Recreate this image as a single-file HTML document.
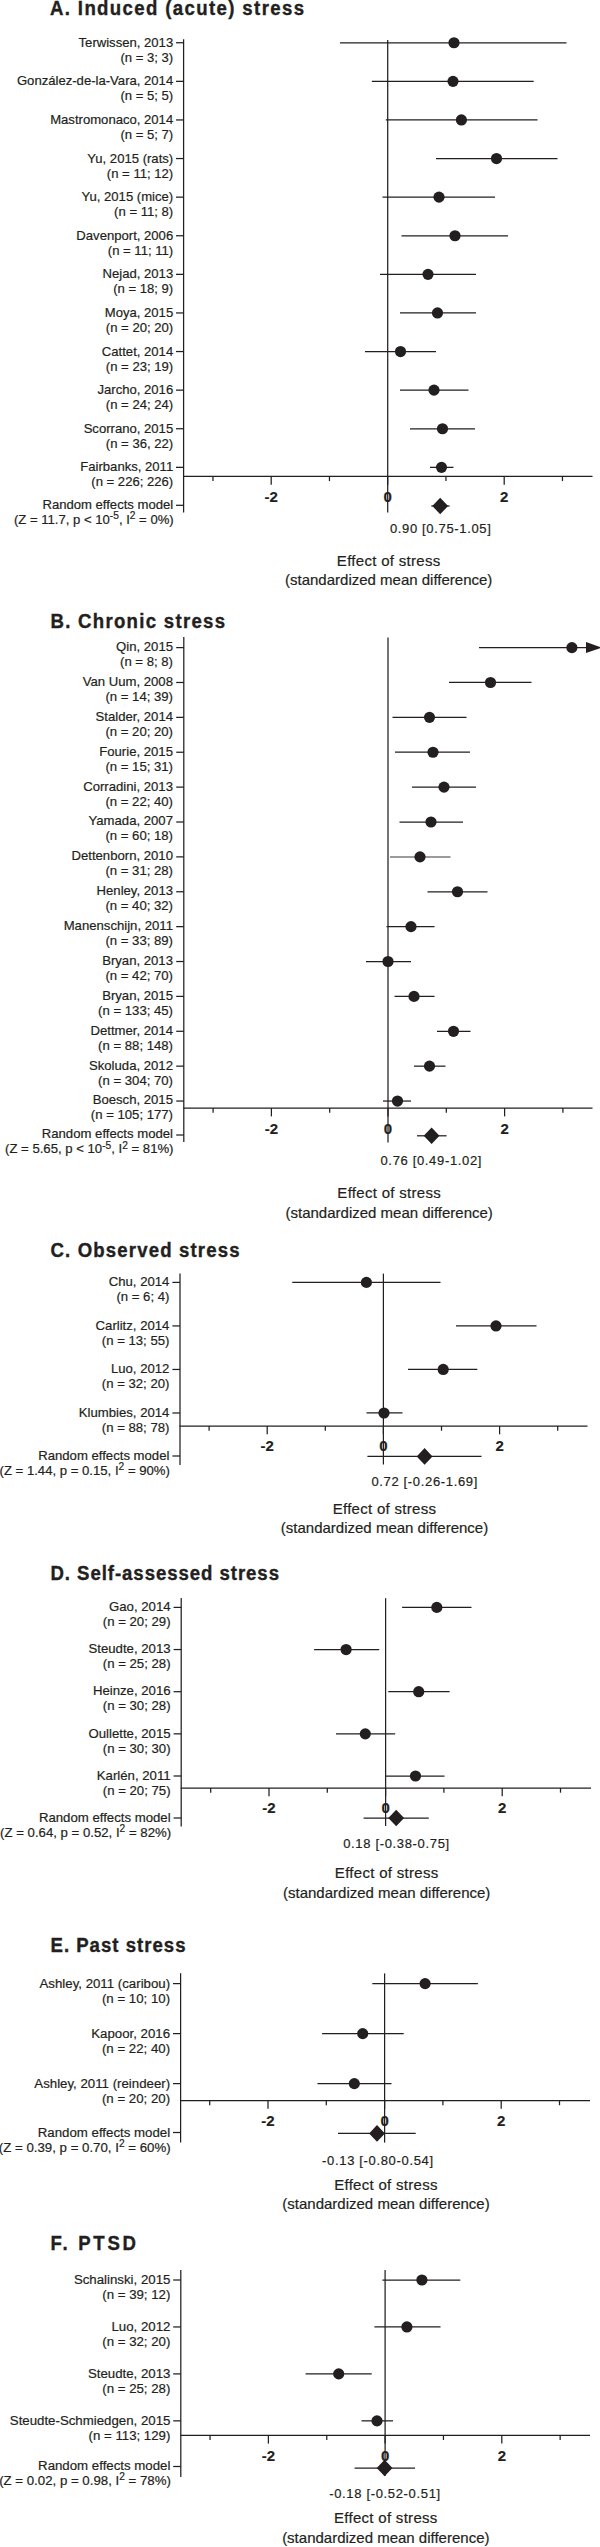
<!DOCTYPE html>
<html lang="en"><head><meta charset="utf-8"><title>Forest plots: effect of stress</title>
<style>html,body{margin:0;padding:0;background:#fff}body{width:600px;height:2547px;overflow:hidden}svg{display:block}</style>
</head><body>
<svg width="600" height="2547" viewBox="0 0 600 2547">
<style>text{font-family:"Liberation Sans",Arial,Helvetica,sans-serif;fill:#231f20;stroke:#231f20;stroke-width:.2px}.t{font-size:18.6px;font-weight:bold;stroke:#231f20;stroke-width:.35px}.l{text-anchor:end}.n{font-size:15px;font-weight:bold;text-anchor:middle}.v{font-size:13px;text-anchor:middle;letter-spacing:.66px}.e{font-size:15px;text-anchor:middle}.s{font-size:10.2px}line,path.ln{stroke:#231f20;stroke-width:1.25;fill:none}.ax{stroke-width:1.25}</style>
<g font-size="13.1">
<text class="t" transform="translate(0 14.7) scale(1 1.05)" x="50" y="0" textLength="254" lengthAdjust="spacing">A. Induced (acute) stress</text>
<line class="ax" x1="183.6" y1="39.3" x2="183.6" y2="512.6"/>
<line class="ax" x1="183.1" y1="476.4" x2="592.5" y2="476.4"/>
<line x1="212.95" y1="476.4" x2="212.95" y2="481.1"/>
<line x1="271.2" y1="476.4" x2="271.2" y2="484.7"/>
<line x1="329.45" y1="476.4" x2="329.45" y2="481.1"/>
<line x1="387.7" y1="476.4" x2="387.7" y2="484.7"/>
<line x1="445.95" y1="476.4" x2="445.95" y2="481.1"/>
<line x1="504.2" y1="476.4" x2="504.2" y2="484.7"/>
<line x1="562.45" y1="476.4" x2="562.45" y2="481.1"/>
<line x1="387.7" y1="40" x2="387.7" y2="512.6"/>
<text class="n" x="271.2" y="501.8">-2</text>
<text class="n" x="387.7" y="501.8">0</text>
<text class="n" x="504.2" y="501.8">2</text>
<text class="l" x="173.2" y="46.75">Terwissen, 2013</text>
<text class="l" x="173.2" y="61.75">(n = 3; 3)</text>
<line x1="176" y1="42.75" x2="183.6" y2="42.75"/>
<line x1="340" y1="42.75" x2="566.5" y2="42.75"/>
<circle cx="454" cy="42.75" r="5.6" fill="#231f20"/>
<text class="l" x="173.2" y="85.35">González-de-la-Vara, 2014</text>
<text class="l" x="173.2" y="100.35">(n = 5; 5)</text>
<line x1="176" y1="81.35" x2="183.6" y2="81.35"/>
<line x1="371.8" y1="81.35" x2="533.7" y2="81.35"/>
<circle cx="453" cy="81.35" r="5.6" fill="#231f20"/>
<text class="l" x="173.2" y="123.95">Mastromonaco, 2014</text>
<text class="l" x="173.2" y="138.95">(n = 5; 7)</text>
<line x1="176" y1="119.95" x2="183.6" y2="119.95"/>
<line x1="385.8" y1="119.95" x2="537.5" y2="119.95"/>
<circle cx="461.4" cy="119.95" r="5.6" fill="#231f20"/>
<text class="l" x="173.2" y="162.55">Yu, 2015 (rats)</text>
<text class="l" x="173.2" y="177.55">(n = 11; 12)</text>
<line x1="176" y1="158.55" x2="183.6" y2="158.55"/>
<line x1="436" y1="158.55" x2="557.5" y2="158.55"/>
<circle cx="496.5" cy="158.55" r="5.6" fill="#231f20"/>
<text class="l" x="173.2" y="201.15">Yu, 2015 (mice)</text>
<text class="l" x="173.2" y="216.15">(n = 11; 8)</text>
<line x1="176" y1="197.15" x2="183.6" y2="197.15"/>
<line x1="382.5" y1="197.15" x2="495" y2="197.15"/>
<circle cx="439" cy="197.15" r="5.6" fill="#231f20"/>
<text class="l" x="173.2" y="239.75">Davenport, 2006</text>
<text class="l" x="173.2" y="254.75">(n = 11; 11)</text>
<line x1="176" y1="235.75" x2="183.6" y2="235.75"/>
<line x1="401.5" y1="235.75" x2="508" y2="235.75"/>
<circle cx="455" cy="235.75" r="5.6" fill="#231f20"/>
<text class="l" x="173.2" y="278.35">Nejad, 2013</text>
<text class="l" x="173.2" y="293.35">(n = 18; 9)</text>
<line x1="176" y1="274.35" x2="183.6" y2="274.35"/>
<line x1="380" y1="274.35" x2="476" y2="274.35"/>
<circle cx="428" cy="274.35" r="5.6" fill="#231f20"/>
<text class="l" x="173.2" y="316.95">Moya, 2015</text>
<text class="l" x="173.2" y="331.95">(n = 20; 20)</text>
<line x1="176" y1="312.95" x2="183.6" y2="312.95"/>
<line x1="400" y1="312.95" x2="476" y2="312.95"/>
<circle cx="437.5" cy="312.95" r="5.6" fill="#231f20"/>
<text class="l" x="173.2" y="355.55">Cattet, 2014</text>
<text class="l" x="173.2" y="370.55">(n = 23; 19)</text>
<line x1="176" y1="351.55" x2="183.6" y2="351.55"/>
<line x1="365" y1="351.55" x2="436" y2="351.55"/>
<circle cx="400.5" cy="351.55" r="5.6" fill="#231f20"/>
<text class="l" x="173.2" y="394.15">Jarcho, 2016</text>
<text class="l" x="173.2" y="409.15">(n = 24; 24)</text>
<line x1="176" y1="390.15" x2="183.6" y2="390.15"/>
<line x1="400" y1="390.15" x2="468.5" y2="390.15"/>
<circle cx="434" cy="390.15" r="5.6" fill="#231f20"/>
<text class="l" x="173.2" y="432.75">Scorrano, 2015</text>
<text class="l" x="173.2" y="447.75">(n = 36, 22)</text>
<line x1="176" y1="428.75" x2="183.6" y2="428.75"/>
<line x1="410" y1="428.75" x2="475" y2="428.75"/>
<circle cx="442.5" cy="428.75" r="5.6" fill="#231f20"/>
<text class="l" x="173.2" y="471.35">Fairbanks, 2011</text>
<text class="l" x="173.2" y="486.35">(n = 226; 226)</text>
<line x1="176" y1="467.35" x2="183.6" y2="467.35"/>
<line x1="430" y1="467.35" x2="453.5" y2="467.35"/>
<circle cx="441.5" cy="467.35" r="5.6" fill="#231f20"/>
<line x1="176" y1="505.3" x2="183.6" y2="505.3"/>
<text class="l" x="173.2" y="509.3">Random effects model</text>
<text class="l" x="173.7" y="524.3">(Z = 11.7, p &lt; 10<tspan class="s" dy="-4.9">-5</tspan><tspan dy="4.9">, I</tspan><tspan class="s" dy="-4.9">2</tspan><tspan dy="4.9"> = 0%)</tspan></text>
<line x1="431.3" y1="506" x2="449.6" y2="506"/>
<path d="M432.3 506L440.2 497.7L448.1 506L440.2 514.3Z" fill="#231f20"/>
<text class="v" x="440.7" y="533.2">0.90 [0.75-1.05]</text>
<text class="e" x="388.7" y="566" letter-spacing=".3">Effect of stress</text>
<text class="e" x="388.7" y="585.2">(standardized mean difference)</text>
</g>
<g font-size="13.15">
<text class="t" transform="translate(0 628) scale(1 1.05)" x="50.5" y="0" textLength="174.5" lengthAdjust="spacing">B. Chronic stress</text>
<line class="ax" x1="183.8" y1="637" x2="183.8" y2="1142"/>
<line class="ax" x1="183.3" y1="1108.1" x2="592.5" y2="1108.1"/>
<line x1="213.1" y1="1108.1" x2="213.1" y2="1112.8"/>
<line x1="271.4" y1="1108.1" x2="271.4" y2="1116.4"/>
<line x1="329.7" y1="1108.1" x2="329.7" y2="1112.8"/>
<line x1="388" y1="1108.1" x2="388" y2="1116.4"/>
<line x1="446.3" y1="1108.1" x2="446.3" y2="1112.8"/>
<line x1="504.6" y1="1108.1" x2="504.6" y2="1116.4"/>
<line x1="562.9" y1="1108.1" x2="562.9" y2="1112.8"/>
<line x1="388" y1="637.6" x2="388" y2="1142.4"/>
<text class="n" x="271.4" y="1133.5">-2</text>
<text class="n" x="388" y="1133.5">0</text>
<text class="n" x="504.6" y="1133.5">2</text>
<text class="l" x="173" y="651">Qin, 2015</text>
<text class="l" x="173" y="666">(n = 8; 8)</text>
<line x1="176.2" y1="647.6" x2="183.8" y2="647.6"/>
<line x1="479" y1="647.6" x2="590" y2="647.6"/>
<path d="M586 642.1L601.5 647.6L586 653.1Z" fill="#231f20"/>
<circle cx="571.9" cy="647.6" r="5.6" fill="#231f20"/>
<text class="l" x="173" y="685.88">Van Uum, 2008</text>
<text class="l" x="173" y="700.88">(n = 14; 39)</text>
<line x1="176.2" y1="682.48" x2="183.8" y2="682.48"/>
<line x1="449" y1="682.48" x2="531.5" y2="682.48"/>
<circle cx="490.5" cy="682.48" r="5.6" fill="#231f20"/>
<text class="l" x="173" y="720.76">Stalder, 2014</text>
<text class="l" x="173" y="735.76">(n = 20; 20)</text>
<line x1="176.2" y1="717.36" x2="183.8" y2="717.36"/>
<line x1="392.5" y1="717.36" x2="466.5" y2="717.36"/>
<circle cx="429.5" cy="717.36" r="5.6" fill="#231f20"/>
<text class="l" x="173" y="755.64">Fourie, 2015</text>
<text class="l" x="173" y="770.64">(n = 15; 31)</text>
<line x1="176.2" y1="752.24" x2="183.8" y2="752.24"/>
<line x1="395" y1="752.24" x2="470" y2="752.24"/>
<circle cx="433" cy="752.24" r="5.6" fill="#231f20"/>
<text class="l" x="173" y="790.52">Corradini, 2013</text>
<text class="l" x="173" y="805.52">(n = 22; 40)</text>
<line x1="176.2" y1="787.12" x2="183.8" y2="787.12"/>
<line x1="412" y1="787.12" x2="476" y2="787.12"/>
<circle cx="444" cy="787.12" r="5.6" fill="#231f20"/>
<text class="l" x="173" y="825.4">Yamada, 2007</text>
<text class="l" x="173" y="840.4">(n = 60; 18)</text>
<line x1="176.2" y1="822" x2="183.8" y2="822"/>
<line x1="399.5" y1="822" x2="463" y2="822"/>
<circle cx="431" cy="822" r="5.6" fill="#231f20"/>
<text class="l" x="173" y="860.28">Dettenborn, 2010</text>
<text class="l" x="173" y="875.28">(n = 31; 28)</text>
<line x1="176.2" y1="856.88" x2="183.8" y2="856.88"/>
<line x1="390" y1="856.88" x2="450.5" y2="856.88" style="stroke:#7a7a7a;stroke-width:1.5"/>
<circle cx="420" cy="856.88" r="5.6" fill="#231f20"/>
<text class="l" x="173" y="895.16">Henley, 2013</text>
<text class="l" x="173" y="910.16">(n = 40; 32)</text>
<line x1="176.2" y1="891.76" x2="183.8" y2="891.76"/>
<line x1="427.5" y1="891.76" x2="487.5" y2="891.76"/>
<circle cx="457.5" cy="891.76" r="5.6" fill="#231f20"/>
<text class="l" x="173" y="930.04">Manenschijn, 2011</text>
<text class="l" x="173" y="945.04">(n = 33; 89)</text>
<line x1="176.2" y1="926.64" x2="183.8" y2="926.64"/>
<line x1="386.5" y1="926.64" x2="434.5" y2="926.64"/>
<circle cx="411" cy="926.64" r="5.6" fill="#231f20"/>
<text class="l" x="173" y="964.92">Bryan, 2013</text>
<text class="l" x="173" y="979.92">(n = 42; 70)</text>
<line x1="176.2" y1="961.52" x2="183.8" y2="961.52"/>
<line x1="366" y1="961.52" x2="411" y2="961.52"/>
<circle cx="388" cy="961.52" r="5.6" fill="#231f20"/>
<text class="l" x="173" y="999.8">Bryan, 2015</text>
<text class="l" x="173" y="1014.8">(n = 133; 45)</text>
<line x1="176.2" y1="996.4" x2="183.8" y2="996.4"/>
<line x1="394.5" y1="996.4" x2="434.5" y2="996.4"/>
<circle cx="414" cy="996.4" r="5.6" fill="#231f20"/>
<text class="l" x="173" y="1034.68">Dettmer, 2014</text>
<text class="l" x="173" y="1049.68">(n = 88; 148)</text>
<line x1="176.2" y1="1031.28" x2="183.8" y2="1031.28"/>
<line x1="437" y1="1031.28" x2="470.5" y2="1031.28"/>
<circle cx="453.5" cy="1031.28" r="5.6" fill="#231f20"/>
<text class="l" x="173" y="1069.56">Skoluda, 2012</text>
<text class="l" x="173" y="1084.56">(n = 304; 70)</text>
<line x1="176.2" y1="1066.16" x2="183.8" y2="1066.16"/>
<line x1="414" y1="1066.16" x2="445.5" y2="1066.16"/>
<circle cx="429.5" cy="1066.16" r="5.6" fill="#231f20"/>
<text class="l" x="173" y="1104.44">Boesch, 2015</text>
<text class="l" x="173" y="1119.44">(n = 105; 177)</text>
<line x1="176.2" y1="1101.04" x2="183.8" y2="1101.04"/>
<line x1="383" y1="1101.04" x2="411" y2="1101.04"/>
<circle cx="397.5" cy="1101.04" r="5.6" fill="#231f20"/>
<line x1="176.2" y1="1135" x2="183.8" y2="1135"/>
<text class="l" x="173" y="1138.4">Random effects model</text>
<text class="l" x="173.5" y="1153.4">(Z = 5.65, p &lt; 10<tspan class="s" dy="-4.9">-5</tspan><tspan dy="4.9">, I</tspan><tspan class="s" dy="-4.9">2</tspan><tspan dy="4.9"> = 81%)</tspan></text>
<line x1="417" y1="1135.8" x2="446.6" y2="1135.8"/>
<path d="M423.7 1135.8L431.6 1127.5L439.5 1135.8L431.6 1144.1Z" fill="#231f20"/>
<text class="v" x="431.3" y="1165.3">0.76 [0.49-1.02]</text>
<text class="e" x="389.2" y="1197.8" letter-spacing=".3">Effect of stress</text>
<text class="e" x="389.2" y="1217.5">(standardized mean difference)</text>
</g>
<g font-size="13.15">
<text class="t" transform="translate(0 1256.5) scale(1 1.05)" x="50.5" y="0" textLength="189" lengthAdjust="spacing">C. Observed stress</text>
<line class="ax" x1="180" y1="1273.4" x2="180" y2="1465"/>
<line class="ax" x1="179.5" y1="1426" x2="587.5" y2="1426"/>
<line x1="209.1" y1="1426" x2="209.1" y2="1430.7"/>
<line x1="267.2" y1="1426" x2="267.2" y2="1434.3"/>
<line x1="325.3" y1="1426" x2="325.3" y2="1430.7"/>
<line x1="383.4" y1="1426" x2="383.4" y2="1434.3"/>
<line x1="441.5" y1="1426" x2="441.5" y2="1430.7"/>
<line x1="499.6" y1="1426" x2="499.6" y2="1434.3"/>
<line x1="557.7" y1="1426" x2="557.7" y2="1430.7"/>
<line x1="383.4" y1="1273.6" x2="383.4" y2="1464.5"/>
<text class="n" x="267.2" y="1451.4">-2</text>
<text class="n" x="383.4" y="1451.4">0</text>
<text class="n" x="499.6" y="1451.4">2</text>
<text class="l" x="169.4" y="1286.1">Chu, 2014</text>
<text class="l" x="169.4" y="1301.1">(n = 6; 4)</text>
<line x1="172.4" y1="1282.4" x2="180" y2="1282.4"/>
<line x1="292.3" y1="1282.4" x2="440.5" y2="1282.4"/>
<circle cx="366.4" cy="1282.4" r="5.6" fill="#231f20"/>
<text class="l" x="169.4" y="1329.63">Carlitz, 2014</text>
<text class="l" x="169.4" y="1344.63">(n = 13; 55)</text>
<line x1="172.4" y1="1325.93" x2="180" y2="1325.93"/>
<line x1="456" y1="1325.93" x2="536.5" y2="1325.93"/>
<circle cx="496" cy="1325.93" r="5.6" fill="#231f20"/>
<text class="l" x="169.4" y="1373.16">Luo, 2012</text>
<text class="l" x="169.4" y="1388.16">(n = 32; 20)</text>
<line x1="172.4" y1="1369.46" x2="180" y2="1369.46"/>
<line x1="408" y1="1369.46" x2="477.3" y2="1369.46"/>
<circle cx="443.2" cy="1369.46" r="5.6" fill="#231f20"/>
<text class="l" x="169.4" y="1416.69">Klumbies, 2014</text>
<text class="l" x="169.4" y="1431.69">(n = 88; 78)</text>
<line x1="172.4" y1="1412.99" x2="180" y2="1412.99"/>
<line x1="366.5" y1="1412.99" x2="402.5" y2="1412.99"/>
<circle cx="384" cy="1412.99" r="5.6" fill="#231f20"/>
<line x1="172.4" y1="1456" x2="180" y2="1456"/>
<text class="l" x="169.4" y="1459.7">Random effects model</text>
<text class="l" x="169.9" y="1474.7">(Z = 1.44, p = 0.15, I<tspan class="s" dy="-4.9">2</tspan><tspan dy="4.9"> = 90%)</tspan></text>
<line x1="367.4" y1="1456.4" x2="481.5" y2="1456.4"/>
<path d="M416.7 1456.4L424.6 1448.1L432.5 1456.4L424.6 1464.7Z" fill="#231f20"/>
<text class="v" x="424.7" y="1486">0.72 [-0.26-1.69]</text>
<text class="e" x="384.5" y="1514.3" letter-spacing=".3">Effect of stress</text>
<text class="e" x="384.5" y="1532.8">(standardized mean difference)</text>
</g>
<g font-size="13.2">
<text class="t" transform="translate(0 1580) scale(1 1.05)" x="50.5" y="0" textLength="228.5" lengthAdjust="spacing">D. Self-assessed stress</text>
<line class="ax" x1="181.2" y1="1598" x2="181.2" y2="1826.5"/>
<line class="ax" x1="180.7" y1="1788" x2="591" y2="1788"/>
<line x1="210.7" y1="1788" x2="210.7" y2="1792.7"/>
<line x1="269" y1="1788" x2="269" y2="1796.3"/>
<line x1="327.3" y1="1788" x2="327.3" y2="1792.7"/>
<line x1="385.6" y1="1788" x2="385.6" y2="1796.3"/>
<line x1="443.9" y1="1788" x2="443.9" y2="1792.7"/>
<line x1="502.2" y1="1788" x2="502.2" y2="1796.3"/>
<line x1="560.5" y1="1788" x2="560.5" y2="1792.7"/>
<line x1="385.6" y1="1598.2" x2="385.6" y2="1826"/>
<text class="n" x="269" y="1813.4">-2</text>
<text class="n" x="385.6" y="1813.4">0</text>
<text class="n" x="502.2" y="1813.4">2</text>
<text class="l" x="170.6" y="1611.1">Gao, 2014</text>
<text class="l" x="170.6" y="1626.1">(n = 20; 29)</text>
<line x1="173.6" y1="1607.4" x2="181.2" y2="1607.4"/>
<line x1="402.1" y1="1607.4" x2="471.5" y2="1607.4"/>
<circle cx="436.8" cy="1607.4" r="5.6" fill="#231f20"/>
<text class="l" x="170.6" y="1653.25">Steudte, 2013</text>
<text class="l" x="170.6" y="1668.25">(n = 25; 28)</text>
<line x1="173.6" y1="1649.55" x2="181.2" y2="1649.55"/>
<line x1="314.1" y1="1649.55" x2="379.2" y2="1649.55"/>
<circle cx="346.1" cy="1649.55" r="5.6" fill="#231f20"/>
<text class="l" x="170.6" y="1695.4">Heinze, 2016</text>
<text class="l" x="170.6" y="1710.4">(n = 30; 28)</text>
<line x1="173.6" y1="1691.7" x2="181.2" y2="1691.7"/>
<line x1="388.3" y1="1691.7" x2="449.6" y2="1691.7"/>
<circle cx="418.7" cy="1691.7" r="5.6" fill="#231f20"/>
<text class="l" x="170.6" y="1737.55">Oullette, 2015</text>
<text class="l" x="170.6" y="1752.55">(n = 30; 30)</text>
<line x1="173.6" y1="1733.85" x2="181.2" y2="1733.85"/>
<line x1="336" y1="1733.85" x2="395.2" y2="1733.85"/>
<circle cx="365.3" cy="1733.85" r="5.6" fill="#231f20"/>
<text class="l" x="170.6" y="1779.7">Karlén, 2011</text>
<text class="l" x="170.6" y="1794.7">(n = 20; 75)</text>
<line x1="173.6" y1="1776" x2="181.2" y2="1776"/>
<line x1="386" y1="1776" x2="444.5" y2="1776"/>
<circle cx="415.5" cy="1776" r="5.6" fill="#231f20"/>
<line x1="173.6" y1="1818" x2="181.2" y2="1818"/>
<text class="l" x="170.6" y="1821.7">Random effects model</text>
<text class="l" x="171.1" y="1836.7">(Z = 0.64, p = 0.52, I<tspan class="s" dy="-4.9">2</tspan><tspan dy="4.9"> = 82%)</tspan></text>
<line x1="363.6" y1="1818" x2="428.8" y2="1818"/>
<path d="M388.3 1818L396.2 1809.7L404.1 1818L396.2 1826.3Z" fill="#231f20"/>
<text class="v" x="396.5" y="1847.5">0.18 [-0.38-0.75]</text>
<text class="e" x="386.7" y="1877.8" letter-spacing=".3">Effect of stress</text>
<text class="e" x="386.7" y="1897.5">(standardized mean difference)</text>
</g>
<g font-size="13.25">
<text class="t" transform="translate(0 1952) scale(1 1.05)" x="50.5" y="0" textLength="135" lengthAdjust="spacing">E. Past stress</text>
<line class="ax" x1="180.6" y1="1973.2" x2="180.6" y2="2142.5"/>
<line class="ax" x1="180.1" y1="2100.5" x2="590" y2="2100.5"/>
<line x1="209.7" y1="2100.5" x2="209.7" y2="2105.2"/>
<line x1="268" y1="2100.5" x2="268" y2="2108.8"/>
<line x1="326.3" y1="2100.5" x2="326.3" y2="2105.2"/>
<line x1="384.6" y1="2100.5" x2="384.6" y2="2108.8"/>
<line x1="442.9" y1="2100.5" x2="442.9" y2="2105.2"/>
<line x1="501.2" y1="2100.5" x2="501.2" y2="2108.8"/>
<line x1="559.5" y1="2100.5" x2="559.5" y2="2105.2"/>
<line x1="384.6" y1="1973.4" x2="384.6" y2="2142.6"/>
<text class="n" x="268" y="2125.9">-2</text>
<text class="n" x="384.6" y="2125.9">0</text>
<text class="n" x="501.2" y="2125.9">2</text>
<text class="l" x="170.1" y="1987.6">Ashley, 2011 (caribou)</text>
<text class="l" x="170.1" y="2002.6">(n = 10; 10)</text>
<line x1="173" y1="1983.6" x2="180.6" y2="1983.6"/>
<line x1="372.3" y1="1983.6" x2="477.9" y2="1983.6"/>
<circle cx="425.1" cy="1983.6" r="5.6" fill="#231f20"/>
<text class="l" x="170.1" y="2037.6">Kapoor, 2016</text>
<text class="l" x="170.1" y="2052.6">(n = 22; 40)</text>
<line x1="173" y1="2033.6" x2="180.6" y2="2033.6"/>
<line x1="322.1" y1="2033.6" x2="403.7" y2="2033.6"/>
<circle cx="362.7" cy="2033.6" r="5.6" fill="#231f20"/>
<text class="l" x="170.1" y="2087.6">Ashley, 2011 (reindeer)</text>
<text class="l" x="170.1" y="2102.6">(n = 20; 20)</text>
<line x1="173" y1="2083.6" x2="180.6" y2="2083.6"/>
<line x1="317.5" y1="2083.6" x2="391.5" y2="2083.6"/>
<circle cx="354.3" cy="2083.6" r="5.6" fill="#231f20"/>
<line x1="173" y1="2132.5" x2="180.6" y2="2132.5"/>
<text class="l" x="170.1" y="2136.5">Random effects model</text>
<text class="l" x="170.6" y="2151.5">(Z = 0.39, p = 0.70, I<tspan class="s" dy="-4.9">2</tspan><tspan dy="4.9"> = 60%)</tspan></text>
<line x1="338" y1="2133.4" x2="415.7" y2="2133.4"/>
<path d="M369.1 2133.4L377 2125.1L384.9 2133.4L377 2141.7Z" fill="#231f20"/>
<text class="v" x="377.9" y="2164.7">-0.13 [-0.80-0.54]</text>
<text class="e" x="386" y="2189.7" letter-spacing=".3">Effect of stress</text>
<text class="e" x="386" y="2208.8">(standardized mean difference)</text>
</g>
<g font-size="13.25">
<text class="t" transform="translate(0 2250) scale(1 1.05)" x="50.5" y="0" textLength="85.5" lengthAdjust="spacing">F. PTSD</text>
<line class="ax" x1="180.8" y1="2270" x2="180.8" y2="2477"/>
<line class="ax" x1="180.3" y1="2435.3" x2="590" y2="2435.3"/>
<line x1="210.05" y1="2435.3" x2="210.05" y2="2440"/>
<line x1="268.4" y1="2435.3" x2="268.4" y2="2443.6"/>
<line x1="326.75" y1="2435.3" x2="326.75" y2="2440"/>
<line x1="385.1" y1="2435.3" x2="385.1" y2="2443.6"/>
<line x1="443.45" y1="2435.3" x2="443.45" y2="2440"/>
<line x1="501.8" y1="2435.3" x2="501.8" y2="2443.6"/>
<line x1="560.15" y1="2435.3" x2="560.15" y2="2440"/>
<line x1="385.1" y1="2270" x2="385.1" y2="2476"/>
<text class="n" x="268.4" y="2460.7">-2</text>
<text class="n" x="385.1" y="2460.7">0</text>
<text class="n" x="501.8" y="2460.7">2</text>
<text class="l" x="170.4" y="2283.8">Schalinski, 2015</text>
<text class="l" x="170.4" y="2298.8">(n = 39; 12)</text>
<line x1="173.2" y1="2280" x2="180.8" y2="2280"/>
<line x1="382.4" y1="2280" x2="460.3" y2="2280"/>
<circle cx="421.9" cy="2280" r="5.6" fill="#231f20"/>
<text class="l" x="170.4" y="2330.75">Luo, 2012</text>
<text class="l" x="170.4" y="2345.75">(n = 32; 20)</text>
<line x1="173.2" y1="2326.95" x2="180.8" y2="2326.95"/>
<line x1="374.4" y1="2326.95" x2="440.5" y2="2326.95"/>
<circle cx="406.9" cy="2326.95" r="5.6" fill="#231f20"/>
<text class="l" x="170.4" y="2377.7">Steudte, 2013</text>
<text class="l" x="170.4" y="2392.7">(n = 25; 28)</text>
<line x1="173.2" y1="2373.9" x2="180.8" y2="2373.9"/>
<line x1="305.6" y1="2373.9" x2="371.7" y2="2373.9"/>
<circle cx="338.7" cy="2373.9" r="5.6" fill="#231f20"/>
<text class="l" x="170.4" y="2424.65">Steudte-Schmiedgen, 2015</text>
<text class="l" x="170.4" y="2439.65">(n = 113; 129)</text>
<line x1="173.2" y1="2420.85" x2="180.8" y2="2420.85"/>
<line x1="361.5" y1="2420.85" x2="393" y2="2420.85"/>
<circle cx="377" cy="2420.85" r="5.6" fill="#231f20"/>
<line x1="173.2" y1="2466.5" x2="180.8" y2="2466.5"/>
<text class="l" x="170.4" y="2470.3">Random effects model</text>
<text class="l" x="170.9" y="2485.3">(Z = 0.02, p = 0.98, I<tspan class="s" dy="-4.9">2</tspan><tspan dy="4.9"> = 78%)</tspan></text>
<line x1="354.6" y1="2468" x2="415" y2="2468"/>
<path d="M376.7 2468L384.6 2459.7L392.5 2468L384.6 2476.3Z" fill="#231f20"/>
<text class="v" x="385" y="2497.8">-0.18 [-0.52-0.51]</text>
<text class="e" x="385.8" y="2522.8" letter-spacing=".3">Effect of stress</text>
<text class="e" x="385.8" y="2543">(standardized mean difference)</text>
</g>
</svg>
</body></html>
